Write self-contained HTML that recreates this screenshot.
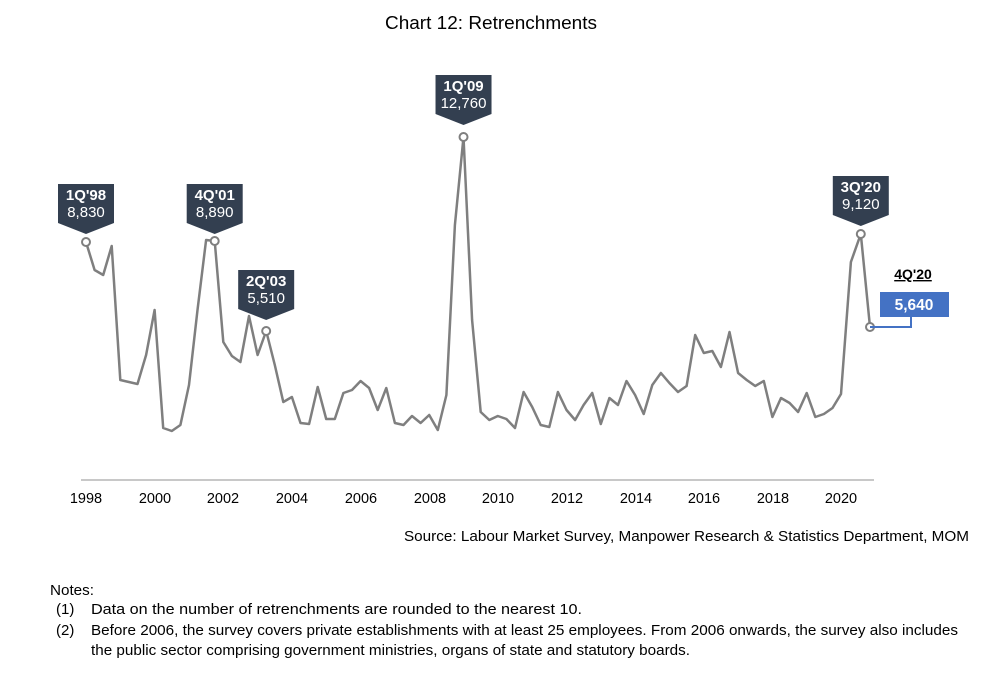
<!DOCTYPE html>
<html><head><meta charset="utf-8"><style>
body{margin:0;background:#fff;width:1008px;height:672px;overflow:hidden;font-family:"Liberation Sans",Arial,sans-serif}
</style></head><body>
<svg id="s" width="1008" height="672" xmlns="http://www.w3.org/2000/svg" font-family="Liberation Sans, Arial, sans-serif">
<text x="491" y="29" font-size="18" text-anchor="middle" fill="#000" textLength="212" lengthAdjust="spacingAndGlyphs">Chart 12: Retrenchments</text>
<line x1="81" y1="480" x2="874" y2="480" stroke="#a6a6a6" stroke-width="1.3"/>
<g font-size="14.5" fill="#000" text-anchor="middle">
<text x="86" y="503">1998</text><text x="155" y="503">2000</text><text x="223" y="503">2002</text><text x="292" y="503">2004</text><text x="361" y="503">2006</text><text x="430" y="503">2008</text><text x="498" y="503">2010</text><text x="567" y="503">2012</text><text x="636" y="503">2014</text><text x="704" y="503">2016</text><text x="773" y="503">2018</text><text x="841" y="503">2020</text>
</g>
<polyline id="ln" fill="none" stroke="#7f7f7f" stroke-width="2.5" stroke-linejoin="round" points=""/>
<g id="cl"></g>
<polyline points="870,327 911,327 911,316" fill="none" stroke="#4472c4" stroke-width="2"/>
<rect x="880" y="292" width="69" height="25" fill="#4472c4"/>
<text x="914" y="310" font-size="15.5" font-weight="bold" fill="#fff" text-anchor="middle">5,640</text>
<text x="913" y="279" font-size="14" font-weight="bold" fill="#000" text-anchor="middle" text-decoration="underline">4Q'20</text>
<text x="404" y="541" font-size="15" fill="#000" textLength="565" lengthAdjust="spacingAndGlyphs">Source: Labour Market Survey, Manpower Research &amp; Statistics Department, MOM</text>
<g font-size="15" fill="#000">
<text x="50" y="595" textLength="44" lengthAdjust="spacingAndGlyphs">Notes:</text>
<text x="56" y="614">(1)</text><text x="91" y="614" textLength="491" lengthAdjust="spacingAndGlyphs">Data on the number of retrenchments are rounded to the nearest 10.</text>
<text x="56" y="635">(2)</text><text x="91" y="635" textLength="867" lengthAdjust="spacingAndGlyphs">Before 2006, the survey covers private establishments with at least 25 employees. From 2006 onwards, the survey also includes</text>
<text x="91" y="655" textLength="599" lengthAdjust="spacingAndGlyphs">the public sector comprising government ministries, organs of state and statutory boards.</text>
</g>
</svg>
<script>
var y=[242,270,275,246,380,382,384,355,310,428,431,425,385,310,240,241,342,356,362,316,355,331,365,402,397,423,424,387,419,419,393,390,381,388,410,388,423,425,416,423,415,430,395,225,137,320,412,420,416,419,428,392,407,425,427,392,410,420,405,393,424,398,405,381,395,414,385,373,383,392,386,335,353,351,367,332,373,380,386,381,417,398,403,412,393,417,414,408,394,262,234,327];
function X(i){var x=86+8.58*i; if(i>=89) x+=(i-88)*1.3; if(i==91) x=870; return x;}
var p=y.map(function(v,i){return X(i).toFixed(1)+","+v}).join(" ");
document.getElementById("ln").setAttribute("points",p);
var g=document.getElementById("cl");
function call(i,a,b,top){var x=X(i),v=y[i],w=56,h=39;
var s='<path d="M'+(x-w/2)+','+top+'h'+w+'v'+h+'l-'+(w/2)+',11l-'+(w/2)+',-11z" fill="#333f50"/>'+
'<text x="'+x+'" y="'+(top+16)+'" font-size="15" font-weight="bold" fill="#fff" text-anchor="middle">'+a+'</text>'+
'<text x="'+x+'" y="'+(top+33)+'" font-size="15" fill="#fff" text-anchor="middle">'+b+'</text>'+
'<circle cx="'+x+'" cy="'+v+'" r="4" fill="#fff" stroke="#7f7f7f" stroke-width="2"/>';
g.innerHTML+=s;}
call(0,"1Q'98","8,830",184);call(15,"4Q'01","8,890",184);call(21,"2Q'03","5,510",270);call(44,"1Q'09","12,760",75);call(90,"3Q'20","9,120",176);
g.innerHTML+='<circle cx="870" cy="327" r="4" fill="#fff" stroke="#7f7f7f" stroke-width="2"/>';
</script>
</body></html>
